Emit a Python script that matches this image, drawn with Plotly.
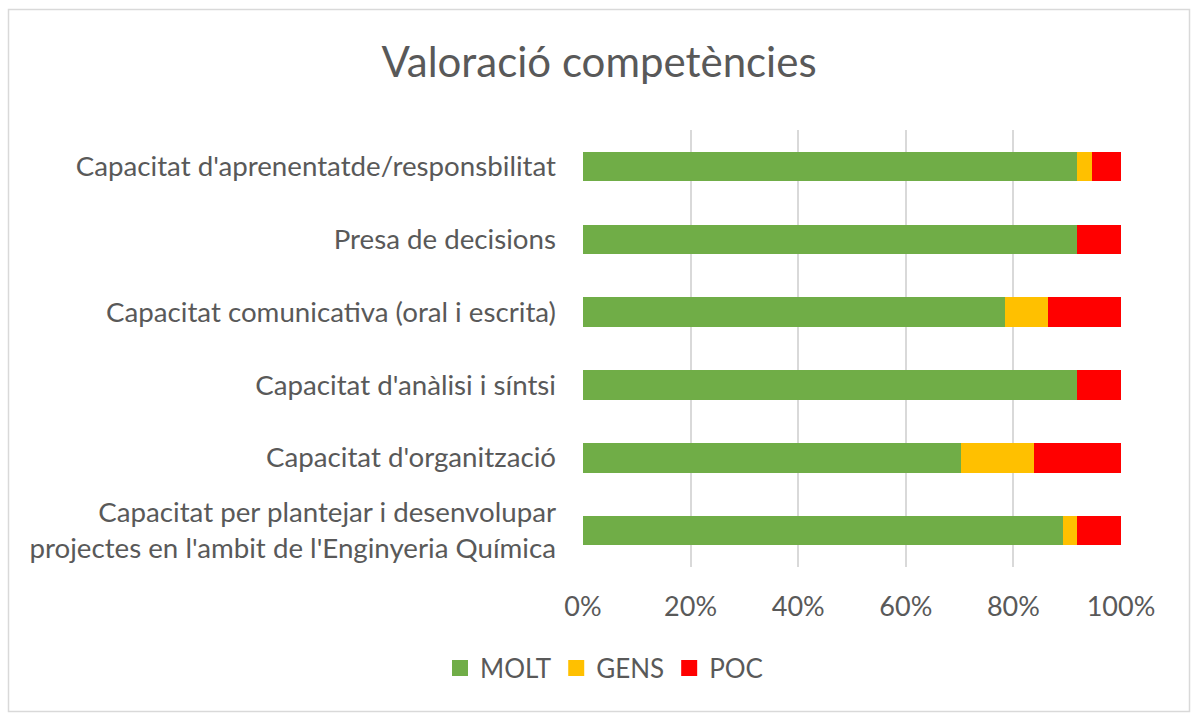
import plotly.graph_objects as go

categories = [
    "Capacitat d'aprenentatde/responsbilitat",
    "Presa de decisions",
    "Capacitat comunicativa (oral i escrita)",
    "Capacitat d'anàlisi i síntsi",
    "Capacitat d'organització",
    "Capacitat per plantejar i desenvolupar<br>projectes en l'ambit de l'Enginyeria Química",
]
molt = [34, 34, 29, 34, 26, 33]
gens = [1, 0, 3, 0, 5, 1]
poc = [2, 3, 5, 3, 6, 3]
series_names = ["MOLT", "GENS", "POC"]
series_colors = ["#70AD47", "#FFC000", "#FF0000"]
x_ticks = [0, 20, 40, 60, 80, 100]
x_tick_labels = ["0%", "20%", "40%", "60%", "80%", "100%"]

W, H = 1191, 713
L, R, T, B = 583, W - 1121, 130, H - 567
pw, ph = W - L - R, H - T - B

def px(x):
    return (x - L) / pw

def py(y):
    return (H - B - y) / ph

font_family = "Lato, 'Open Sans', sans-serif"
txt = "#595959"

fig = go.Figure()
for name, vals, col in zip(series_names, [molt, gens, poc], series_colors):
    fig.add_trace(go.Bar(y=categories, x=vals, name=name, orientation="h", showlegend=False,
                         marker=dict(color=col, line=dict(width=0))))
for name, col in zip(series_names, series_colors):
    fig.add_trace(go.Scatter(x=[None], y=[None], mode="markers", name=name,
                             marker=dict(symbol="square", size=16, color=col)))

fig.update_layout(
    width=W, height=H,
    margin=dict(l=L, r=R, t=T, b=B),
    barmode="stack", barnorm="percent", bargap=0.595,
    paper_bgcolor="white", plot_bgcolor="white",
    font=dict(family=font_family, color=txt, size=27),
    title=dict(text="Valoració competències", x=599 / W, xref="container", xanchor="center",
               y=1 - 62 / H, yref="container", yanchor="middle",
               font=dict(size=42, color=txt, family=font_family)),
    legend=dict(orientation="h", x=px(604), xanchor="center", y=py(668), yanchor="middle",
                font=dict(size=26, color=txt), itemwidth=30, traceorder="normal"),
    xaxis=dict(range=[0, 100], tickvals=x_ticks, ticktext=x_tick_labels,
               showgrid=True, gridcolor="#D9D9D9", gridwidth=1.5, zeroline=False,
               showline=False, ticks="", ticklabelstandoff=21, tickfont=dict(size=27, color=txt)),
    yaxis=dict(autorange="reversed", showgrid=False, showline=False, ticks="",
               ticklabelstandoff=26, tickfont=dict(size=27.7, color=txt)),
    shapes=[dict(type="rect", xref="paper", yref="paper",
                 x0=px(8.5), x1=px(1189.5), y0=py(711.5), y1=py(9.5),
                 line=dict(color="#D9D9D9", width=1.5), fillcolor="rgba(0,0,0,0)", layer="below")],
)

fig.write_html("out.html", config={"displayModeBar": False},
               post_script="document.body.style.margin='0';")
